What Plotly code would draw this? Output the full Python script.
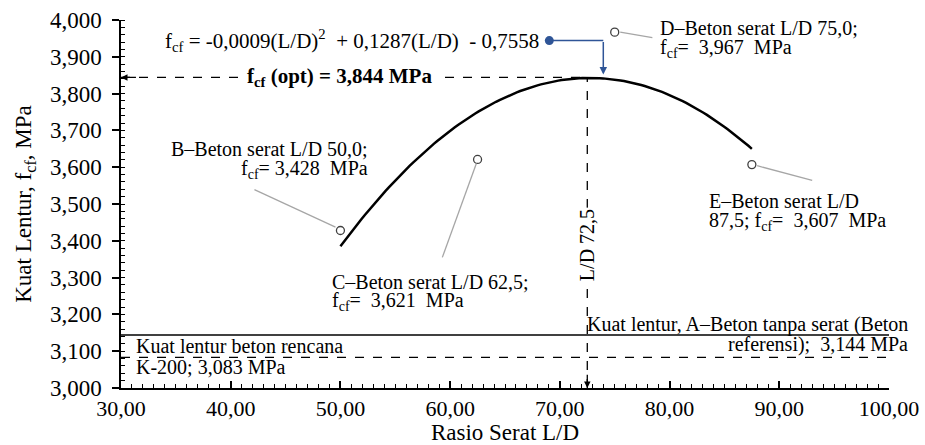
import numpy as np
import plotly.graph_objects as go

# ---- data ----
ld_ratio = [50.0, 62.5, 75.0, 87.5]
fcf_values = [3.428, 3.621, 3.967, 3.607]
point_labels = ["B", "C", "D", "E"]
ld_opt = 72.5
fcf_opt = 3.844
fcf_reference = 3.144
fcf_design = 3.083
x_range = [30, 100]
y_range = [3.0, 4.0]

FONT = "Liberation Serif, Times New Roman, serif"
BLUE = "#2f5597"
GREY = "#a6a6a6"
FS = 20
DY = 0.0272  # half line pitch in data units

coef = np.polyfit(ld_ratio, fcf_values, 2)
xc = np.linspace(min(ld_ratio), max(ld_ratio), 120)
yc = np.polyval(coef, xc)

fig = go.Figure()

# reference lines
fig.add_shape(type="line", x0=x_range[0], x1=x_range[1], y0=fcf_reference, y1=fcf_reference,
              line=dict(color="black", width=1.5))
fig.add_shape(type="line", x0=x_range[0], x1=x_range[1], y0=fcf_design, y1=fcf_design,
              line=dict(color="black", width=1.2, dash="dash"))
# optimum dashed lines
fig.add_shape(type="line", x0=x_range[0], x1=ld_opt, y0=fcf_opt, y1=fcf_opt,
              line=dict(color="black", width=1.3, dash="dash"))
fig.add_shape(type="line", x0=ld_opt, x1=ld_opt, y0=y_range[0], y1=fcf_opt,
              line=dict(color="black", width=1.3, dash="dash"))

# leader lines (grey)
leaders = [
    (42.16, 3.539, 49.55, 3.437),
    (62.39, 3.610, 59.29, 3.355),
    (75.5, 3.967, 78.43, 3.952),
    (87.98, 3.604, 93.0, 3.564),
]
for x0, y0, x1, y1 in leaders:
    fig.add_shape(type="line", x0=x0, y0=y0, x1=x1, y1=y1, line=dict(color=GREY, width=1.3))

# blue connector horizontal segment
fig.add_shape(type="line", x0=69.04, y0=3.944, x1=73.96, y1=3.944, line=dict(color=BLUE, width=1.5))

# trend curve
fig.add_trace(go.Scatter(x=xc, y=yc, mode="lines", line=dict(color="black", width=2.5),
                         hoverinfo="skip", showlegend=False))
# data points
fig.add_trace(go.Scatter(x=ld_ratio, y=fcf_values, mode="markers",
                         marker=dict(symbol="circle-open", size=8, color="#404040", line=dict(width=1.3)),
                         showlegend=False, text=point_labels))
# blue dot
fig.add_trace(go.Scatter(x=[69.04], y=[3.944], mode="markers",
                         marker=dict(size=9, color=BLUE), showlegend=False, hoverinfo="skip"))

ann = []
# arrowheads
ann.append(dict(x=x_range[0], y=fcf_opt, ax=31.5, ay=fcf_opt, xref="x", yref="y", axref="x", ayref="y",
                text="", showarrow=True, arrowhead=2, arrowsize=1, arrowwidth=1.3, arrowcolor="black"))
ann.append(dict(x=ld_opt, y=y_range[0], ax=ld_opt, ay=3.04, xref="x", yref="y", axref="x", ayref="y",
                text="", showarrow=True, arrowhead=2, arrowsize=1, arrowwidth=1.3, arrowcolor="black"))
ann.append(dict(x=73.96, y=3.852, ax=73.96, ay=3.944, xref="x", yref="y", axref="x", ayref="y",
                text="", showarrow=True, arrowhead=2, arrowsize=1, arrowwidth=1.5, arrowcolor=BLUE))

def txt(x, y, text, xanchor="left", size=FS, xref="x", **kw):
    d = dict(x=x, y=y, xref=xref, yref="y", text=text, showarrow=False, xanchor=xanchor,
             yanchor="middle", font=dict(family=FONT, size=size, color="black"))
    d.update(kw)
    ann.append(d)

txt(68.3, 3.944, "f<sub>cf</sub> = -0,0009(L/D)<sup>2</sup>  + 0,1287(L/D)  - 0,7558", xanchor="right", size=21)
txt(49.9, fcf_opt, "<b>f<sub>cf</sub> (opt) = 3,844 MPa</b>", xanchor="center", size=21,
    bgcolor="white", borderpad=5)
# B
txt(52.67, 3.622 + DY, "B–Beton serat L/D 50,0;", xanchor="right")
txt(52.67, 3.622 - DY, "f<sub>cf</sub>= 3,428  MPa", xanchor="right")
# C
txt(49.07, 3.262 + DY, "C–Beton serat L/D 62,5;")
txt(49.07, 3.262 - DY, "f<sub>cf</sub>=  3,621  MPa")
# D
txt(78.99, 3.950 + DY, "D–Beton serat L/D 75,0;")
txt(78.99, 3.950 - DY, "f<sub>cf</sub>=  3,967  MPa")
# E
txt(83.37, 3.480 + DY, "E–Beton serat L/D")
txt(83.37, 3.480 - DY, "87,5; f<sub>cf</sub>=  3,607  MPa")
# design strength
txt(31.2, 3.115, "Kuat lentur beton rencana")
txt(31.2, 3.056, "K-200; 3,083 MPa")
# reference concrete (extends beyond plot area -> paper x)
txt(1.027, 3.172, "Kuat lentur, A–Beton tanpa serat (Beton", xanchor="right", xref="paper")
txt(1.027, 3.118, "referensi);  3,144 MPa", xanchor="right", xref="paper")
txt(ld_opt, 3.389, "L/D 72,5", xanchor="center", textangle=-90, bgcolor="white", borderpad=1)

fig.update_layout(
    width=925, height=445,
    margin=dict(l=121, r=36, t=20, b=57),
    paper_bgcolor="white", plot_bgcolor="white",
    separators=",.",
    font=dict(family=FONT, size=18, color="black"),
    annotations=ann,
    showlegend=False,
)
fig.update_xaxes(
    range=x_range, tick0=30, dtick=10, tickformat=".2f", automargin=False,
    showline=True, linecolor="black", linewidth=1.5, showgrid=False, zeroline=False,
    ticks="inside", ticklen=7, tickwidth=1.5, tickcolor="black",
    minor=dict(ticks="inside", dtick=1, ticklen=4, tickwidth=1, tickcolor="black"),
    tickfont=dict(family=FONT, size=22),
    title=dict(text="Rasio Serat L/D", font=dict(family=FONT, size=23), standoff=4),
)
fig.update_yaxes(
    range=y_range, tick0=3.0, dtick=0.1, tickformat=".3f", automargin=False,
    showline=True, linecolor="black", linewidth=1.5, showgrid=False, zeroline=False,
    ticks="outside", ticklen=7, tickwidth=1.5, tickcolor="black", ticklabelstandoff=6,
    minor=dict(ticks="inside", dtick=0.02, ticklen=4, tickwidth=1, tickcolor="black"),
    tickfont=dict(family=FONT, size=23),
    title=dict(text="Kuat Lentur, f<sub>cf</sub>, MPa", font=dict(family=FONT, size=23), standoff=12),
)

fig.write_html("out.html", config={"displayModeBar": False},
               post_script="document.body.style.margin='0';")
